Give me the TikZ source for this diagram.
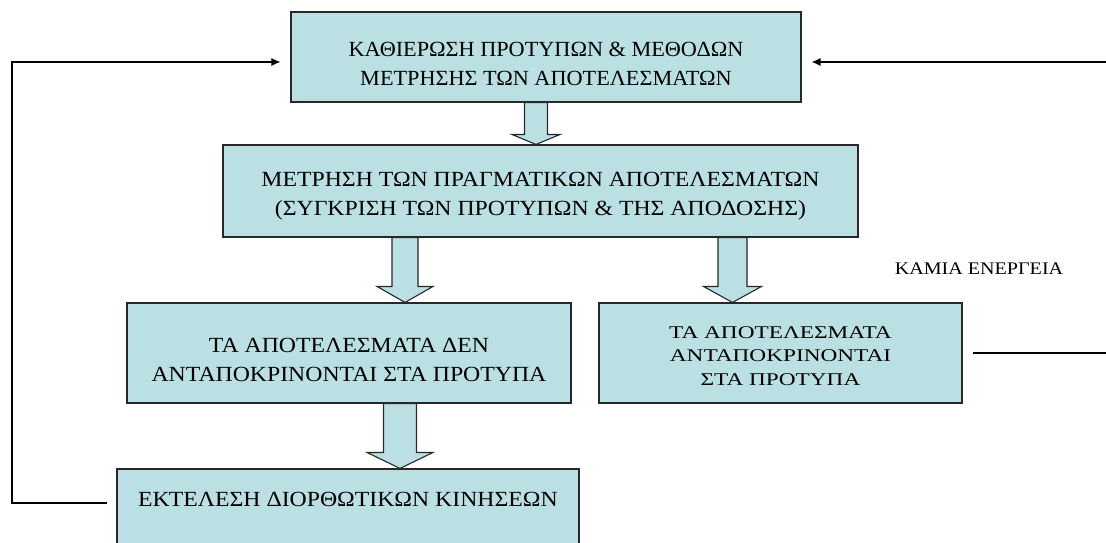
\documentclass[tikz,border=0pt]{standalone}
\usepackage{fontspec}
\setmainfont{Liberation Serif}
\newfontfamily\topfont[FakeStretch=1.03]{Liberation Serif}
\newfontfamily\bodyfont[FakeStretch=1.10]{Liberation Serif}
\newfontfamily\rightfont[FakeStretch=1.30]{Liberation Serif}
\newfontfamily\notefont[FakeStretch=1.135]{Liberation Serif}
\usetikzlibrary{arrows.meta,calc}

\definecolor{boxfill}{RGB}{187,224,227}
\definecolor{boxline}{RGB}{40,40,40}

\tikzset{
  stage/.style={draw=boxline, line width=1.1pt, fill=boxfill, rectangle,
    inner sep=0pt, align=center, text depth=0pt,
    font=\bodyfont\fontsize{21.6}{29}\selectfont},
  topstage/.style={stage, font=\topfont\fontsize{21.6}{29}\selectfont},
  rightstage/.style={stage, font=\rightfont\fontsize{17.9}{23.5}\selectfont},
  blockarrow/.style={draw=boxline, line width=1.1pt, fill=boxfill, line join=miter},
  feedback/.style={draw=black, line width=1.2pt},
  feedtip/.style={-{Latex[length=9pt,width=8pt]}},
  note/.style={font=\notefont\fontsize{17.7}{23.5}\selectfont, inner sep=0pt}
}

% hollow block arrow from the bottom of one box to the top of the next
% #1 from node, #2 to node, #3 axis x, #4 stem half width, #5 head half width, #6 head length
\newcommand\blockarrow[6]{%
  \path[blockarrow] let \p1=(#1.south), \p2=(#2.north) in
    ({#3-#4},\y1) -- ({#3-#4},{\y2+#6pt}) -- ({#3-#5},{\y2+#6pt}) --
    (#3,\y2) -- ({#3+#5},{\y2+#6pt}) -- ({#3+#4},{\y2+#6pt}) --
    ({#3+#4},\y1) -- cycle;}

\begin{document}
\begin{tikzpicture}[x=1pt,y=-1pt]
  \useasboundingbox (0,0) rectangle (1106,543);
  \clip (0,0) rectangle (1106,543);

  % stages of the control process
  \node[topstage, minimum width=510pt, minimum height=90pt, text height=56pt] (b1) at (546,57)
    {ΚΑΘΙΕΡΩΣΗ ΠΡΟΤΥΠΩΝ \& ΜΕΘΟΔΩΝ\\ΜΕΤΡΗΣΗΣ ΤΩΝ ΑΠΟΤΕΛΕΣΜΑΤΩΝ};
  \node[stage, minimum width=635pt, minimum height=92pt, text height=48pt] (b2) at (540.5,191)
    {ΜΕΤΡΗΣΗ ΤΩΝ ΠΡΑΓΜΑΤΙΚΩΝ ΑΠΟΤΕΛΕΣΜΑΤΩΝ\\(ΣΥΓΚΡΙΣΗ ΤΩΝ ΠΡΟΤΥΠΩΝ \& ΤΗΣ ΑΠΟΔΟΣΗΣ)};
  \node[stage, minimum width=444pt, minimum height=100pt, text height=57.4pt] (b3l) at (349,353)
    {ΤΑ ΑΠΟΤΕΛΕΣΜΑΤΑ ΔΕΝ\\ΑΝΤΑΠΟΚΡΙΝΟΝΤΑΙ ΣΤΑ ΠΡΟΤΥΠΑ};
  \node[rightstage, minimum width=363pt, minimum height=100pt, text height=64pt] (b3r) at (780.5,353)
    {ΤΑ ΑΠΟΤΕΛΕΣΜΑΤΑ\\ΑΝΤΑΠΟΚΡΙΝΟΝΤΑΙ\\ΣΤΑ ΠΡΟΤΥΠΑ};
  \node[stage, minimum width=462pt, minimum height=90pt, text height=0pt, text depth=14.6pt] (b4) at (348,514)
    {ΕΚΤΕΛΕΣΗ ΔΙΟΡΘΩΤΙΚΩΝ ΚΙΝΗΣΕΩΝ};

  \node[note] (none) at (979,269) {ΚΑΜΙΑ ΕΝΕΡΓΕΙΑ};

  % block arrows between stages
  \blockarrow{b1}{b2}{536}{11.5}{24}{10}
  \blockarrow{b2}{b3l}{405}{13}{28}{16}
  \blockarrow{b2}{b3r}{732.5}{14.5}{29}{16}
  \blockarrow{b3l}{b4}{400}{16.5}{33}{16}

  % feedback loops back to the first stage
  \coordinate (lowL) at (12,503);
  \coordinate (highL) at (12,62);
  \coordinate (inR) at (1106,62);
  \coordinate (outR) at (1106,353);
  \draw[feedback, feedtip] ([xshift=-9pt]b4.west |- lowL) -- (lowL) -- (highL)
    -- ([xshift=-10pt]b1.west |- highL);
  \draw[feedback, feedtip] (inR) -- ([xshift=10pt]b1.east |- inR);
  \draw[feedback] ([xshift=10pt]b3r.east) -- (outR);
\end{tikzpicture}
\end{document}
